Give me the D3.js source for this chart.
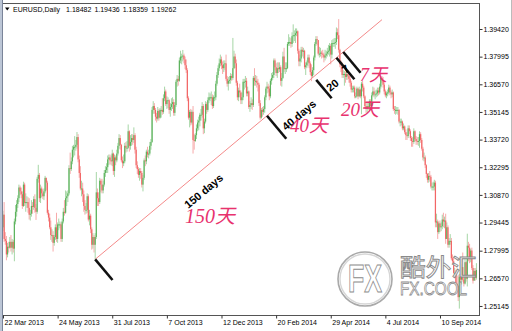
<!DOCTYPE html>
<html>
<head>
<meta charset="utf-8">
<script src="https://cdnjs.cloudflare.com/ajax/libs/d3/7.8.5/d3.min.js"></script>
<style>
  html, body { margin: 0; padding: 0; background: #fff; }
  svg { display: block; }
</style>
</head>
<body>
<div id="chart"></div>
<script>
// EURUSD daily candles
const symbolName = "EURUSD,Daily";
const quoteLine = ["1.18482", "1.19436", "1.18359", "1.19262"];

const xTickBars = [0, 48, 96, 144, 192, 240, 288, 336, 384];
const xTickLabels = ["22 Mar 2013", "24 May 2013", "31 Jul 2013", "7 Oct 2013", "12 Dec 2013",
  "20 Feb 2014", "29 Apr 2014", "4 Jul 2014", "10 Sep 2014"];
const yTickLabels = ["1.39420", "1.37995", "1.36570", "1.35145", "1.33720", "1.32295",
  "1.30870", "1.29445", "1.27995", "1.26570", "1.25145"];

const firstOpen = 1.2920;
const closes = [
  1.2985,1.2860,1.2850,1.2780,1.2820,1.2815,1.2845,1.2815,1.2845,1.2810,
  1.2950,1.3000,1.3040,1.3070,1.3125,1.3105,1.3090,1.3030,1.3140,1.3045,
  1.3050,1.3050,1.3020,1.2985,1.2990,1.3030,1.3025,1.3065,1.3020,1.3000,
  1.3170,1.3190,1.3070,1.3120,1.3095,1.3080,1.3105,1.3175,1.3150,1.2995,
  1.2970,1.2920,1.2880,1.2880,1.2840,1.2870,1.2920,1.2860,1.2935,1.2935,
  1.2935,1.2860,1.2950,1.3000,1.2995,1.3070,1.3080,1.3095,1.3225,1.3220,
  1.3260,1.3320,1.3335,1.3335,1.3345,1.3385,1.3270,1.3200,1.3120,1.3120,
  1.3090,1.3030,1.3010,1.3010,1.3080,1.2960,1.2980,1.2910,1.2830,1.2870,
  1.2830,1.2870,1.3100,1.3070,1.3050,1.3160,1.3140,1.3110,1.3140,1.3200,
  1.3215,1.3230,1.3270,1.3280,1.3265,1.3260,1.3300,1.3210,1.3280,1.3265,
  1.3300,1.3340,1.3380,1.3345,1.3265,1.3250,1.3260,1.3340,1.3330,1.3330,
  1.3415,1.3340,1.3360,1.3380,1.3370,1.3395,1.3320,1.3240,1.3220,1.3190,
  1.3210,1.3200,1.3140,1.3175,1.3265,1.3260,1.3310,1.3295,1.3300,1.3340,
  1.3360,1.3525,1.3545,1.3525,1.3490,1.3480,1.3520,1.3485,1.3525,1.3525,
  1.3515,1.3585,1.3620,1.3555,1.3575,1.3575,1.3525,1.3540,1.3555,1.3565,
  1.3510,1.3550,1.3670,1.3685,1.3675,1.3780,1.3800,1.3800,1.3805,1.3785,
  1.3755,1.3730,1.3585,1.3485,1.3515,1.3460,1.3515,1.3370,1.3365,1.3395,
  1.3430,1.3460,1.3470,1.3500,1.3500,1.3545,1.3430,1.3465,1.3555,1.3525,
  1.3575,1.3590,1.3590,1.3590,1.3545,1.3590,1.3590,1.3660,1.3705,1.3740,
  1.3765,1.3785,1.3755,1.3740,1.3760,1.3765,1.3685,1.3660,1.3675,1.3680,
  1.3700,1.3690,1.3740,1.3800,1.3765,1.3665,1.3590,1.3625,1.3615,1.3575,
  1.3590,1.3670,1.3670,1.3675,1.3610,1.3620,1.3540,1.3550,1.3560,1.3550,
  1.3690,1.3675,1.3675,1.3665,1.3655,1.3560,1.3485,1.3525,1.3515,1.3530,
  1.3590,1.3635,1.3645,1.3635,1.3595,1.3675,1.3690,1.3705,1.3780,1.3745,
  1.3715,1.3740,1.3735,1.3745,1.3675,1.3690,1.3800,1.3735,1.3740,1.3740,
  1.3865,1.3875,1.3875,1.3865,1.3905,1.3910,1.3910,1.3920,1.3930,1.3830,
  1.3775,1.3790,1.3835,1.3825,1.3830,1.3745,1.3755,1.3770,1.3795,1.3765,
  1.3720,1.3700,1.3730,1.3795,1.3865,1.3890,1.3885,1.3815,1.3815,1.3820,
  1.3815,1.3810,1.3795,1.3805,1.3815,1.3825,1.3830,1.3855,1.3810,1.3870,
  1.3870,1.3870,1.3875,1.3925,1.3910,1.3835,1.3760,1.3755,1.3705,1.3710,
  1.3710,1.3695,1.3710,1.3700,1.3685,1.3665,1.3630,1.3635,1.3640,1.3595,
  1.3595,1.3635,1.3595,1.3630,1.3595,1.3660,1.3640,1.3595,1.3545,1.3530,
  1.3545,1.3540,1.3570,1.3545,1.3600,1.3620,1.3605,1.3605,1.3610,1.3625,
  1.3615,1.3645,1.3690,1.3680,1.3655,1.3620,1.3600,1.3610,1.3615,1.3640,
  1.3615,1.3605,1.3615,1.3530,1.3525,1.3525,1.3525,1.3525,1.3465,1.3465,
  1.3465,1.3430,1.3440,1.3410,1.3395,1.3390,1.3430,1.3415,1.3380,1.3365,
  1.3360,1.3415,1.3375,1.3365,1.3360,1.3365,1.3400,1.3370,1.3325,1.3280,
  1.3280,1.3240,1.3195,1.3165,1.3185,1.3180,1.3130,1.3130,1.3130,1.3150,
  1.2945,1.2950,1.2895,1.2940,1.2920,1.2925,1.2960,1.2950,1.2955,1.2860,
  1.2920,1.2830,1.2850,1.2850,1.2760,1.2745,1.2685,1.2685,1.2630,1.2620,
  1.2560,1.2665,1.2650,1.2715,1.2650,1.2630,1.2740,1.2655,1.2825,1.2815,
  1.2760,1.2800,1.2710,1.2645,1.2695,1.2660,1.2700
];
const highs = [
  1.3005,1.3050,1.2895,1.2875,1.2840,1.2845,1.2870,1.2880,1.2860,1.2855,
  1.2965,1.3035,1.3060,1.3085,1.3140,1.3135,1.3125,1.3105,1.3155,1.3150,
  1.3095,1.3080,1.3075,1.3070,1.3010,1.3060,1.3050,1.3080,1.3090,1.3040,
  1.3180,1.3242,1.3200,1.3140,1.3130,1.3115,1.3120,1.3185,1.3175,1.3160,
  1.3010,1.2990,1.2955,1.2910,1.2900,1.2880,1.2935,1.2995,1.2945,1.2965,
  1.2950,1.2945,1.2965,1.3020,1.3060,1.3110,1.3105,1.3110,1.3240,1.3305,
  1.3280,1.3340,1.3345,1.3390,1.3370,1.3411,1.3400,1.3290,1.3235,1.3160,
  1.3150,1.3110,1.3060,1.3045,1.3095,1.3090,1.3010,1.2990,1.2920,1.2890,
  1.2880,1.2890,1.3205,1.3120,1.3100,1.3175,1.3170,1.3170,1.3160,1.3215,
  1.3235,1.3250,1.3290,1.3295,1.3295,1.3290,1.3320,1.3305,1.3295,1.3290,
  1.3320,1.3355,1.3400,1.3395,1.3350,1.3285,1.3295,1.3355,1.3360,1.3365,
  1.3450,1.3420,1.3395,1.3400,1.3400,1.3435,1.3405,1.3335,1.3260,1.3230,
  1.3225,1.3225,1.3210,1.3190,1.3275,1.3290,1.3320,1.3335,1.3320,1.3360,
  1.3375,1.3540,1.3570,1.3560,1.3535,1.3510,1.3540,1.3530,1.3535,1.3545,
  1.3585,1.3605,1.3645,1.3630,1.3595,1.3590,1.3580,1.3560,1.3585,1.3590,
  1.3580,1.3565,1.3680,1.3705,1.3700,1.3795,1.3830,1.3815,1.3834,1.3815,
  1.3800,1.3785,1.3740,1.3595,1.3525,1.3530,1.3525,1.3545,1.3400,1.3405,
  1.3450,1.3475,1.3490,1.3510,1.3530,1.3565,1.3555,1.3480,1.3570,1.3565,
  1.3590,1.3615,1.3610,1.3620,1.3605,1.3600,1.3620,1.3675,1.3720,1.3755,
  1.3790,1.3810,1.3800,1.3775,1.3780,1.3780,1.3810,1.3700,1.3695,1.3700,
  1.3715,1.3710,1.3896,1.3830,1.3815,1.3785,1.3675,1.3640,1.3660,1.3625,
  1.3615,1.3685,1.3685,1.3700,1.3690,1.3645,1.3625,1.3570,1.3590,1.3580,
  1.3700,1.3740,1.3705,1.3700,1.3685,1.3665,1.3575,1.3535,1.3540,1.3545,
  1.3600,1.3645,1.3670,1.3660,1.3650,1.3685,1.3715,1.3720,1.3790,1.3790,
  1.3765,1.3770,1.3770,1.3770,1.3755,1.3715,1.3825,1.3845,1.3770,1.3770,
  1.3875,1.3915,1.3900,1.3895,1.3925,1.3966,1.3935,1.3945,1.3945,1.3935,
  1.3840,1.3810,1.3850,1.3850,1.3845,1.3835,1.3770,1.3780,1.3810,1.3810,
  1.3775,1.3760,1.3745,1.3805,1.3875,1.3905,1.3905,1.3885,1.3850,1.3845,
  1.3830,1.3835,1.3820,1.3835,1.3830,1.3845,1.3860,1.3870,1.3865,1.3885,
  1.3890,1.3895,1.3895,1.3950,1.3945,1.3993,1.3840,1.3780,1.3770,1.3730,
  1.3725,1.3720,1.3730,1.3730,1.3715,1.3700,1.3675,1.3650,1.3650,1.3650,
  1.3615,1.3645,1.3640,1.3645,1.3635,1.3670,1.3675,1.3650,1.3600,1.3560,
  1.3560,1.3565,1.3580,1.3580,1.3615,1.3645,1.3640,1.3625,1.3630,1.3640,
  1.3640,1.3660,1.3700,1.3700,1.3695,1.3665,1.3630,1.3620,1.3630,1.3655,
  1.3650,1.3625,1.3630,1.3620,1.3545,1.3545,1.3540,1.3540,1.3530,1.3480,
  1.3480,1.3470,1.3455,1.3445,1.3425,1.3410,1.3445,1.3445,1.3425,1.3390,
  1.3385,1.3430,1.3420,1.3390,1.3385,1.3385,1.3415,1.3410,1.3380,1.3335,
  1.3305,1.3290,1.3245,1.3200,1.3200,1.3210,1.3190,1.3150,1.3155,1.3165,
  1.3160,1.2990,1.2960,1.2950,1.2955,1.2945,1.2985,1.2995,1.2975,1.2990,
  1.2945,1.2930,1.2865,1.2885,1.2865,1.2780,1.2765,1.2710,1.2700,1.2670,
  1.2675,1.2680,1.2680,1.2730,1.2790,1.2670,1.2760,1.2745,1.2887,1.2845,
  1.2835,1.2810,1.2815,1.2725,1.2710,1.2710,1.2735
];
const lows = [
  1.2900,1.2845,1.2830,1.2750,1.2765,1.2790,1.2810,1.2795,1.2780,1.2790,
  1.2745,1.2935,1.2975,1.3020,1.3050,1.3085,1.3070,1.3015,1.3025,1.3030,
  1.3000,1.3020,1.2995,1.2960,1.2955,1.2975,1.2990,1.3010,1.2995,1.2958,
  1.2990,1.3150,1.3050,1.3045,1.3075,1.3065,1.3060,1.3095,1.3110,1.2985,
  1.2950,1.2910,1.2855,1.2845,1.2795,1.2825,1.2855,1.2845,1.2840,1.2905,
  1.2915,1.2845,1.2845,1.2940,1.2980,1.2990,1.3030,1.3050,1.3085,1.3195,
  1.3210,1.3245,1.3280,1.3290,1.3315,1.3325,1.3255,1.3175,1.3110,1.3080,
  1.3050,1.3000,1.2985,1.2990,1.2995,1.2950,1.2930,1.2890,1.2805,1.2810,
  1.2790,1.2755,1.2860,1.3030,1.3030,1.3040,1.3100,1.3095,1.3095,1.3130,
  1.3180,1.3200,1.3200,1.3240,1.3245,1.3240,1.3235,1.3190,1.3180,1.3240,
  1.3255,1.3290,1.3325,1.3320,1.3255,1.3225,1.3235,1.3250,1.3305,1.3310,
  1.3325,1.3310,1.3320,1.3340,1.3345,1.3355,1.3300,1.3225,1.3195,1.3175,
  1.3160,1.3170,1.3125,1.3105,1.3165,1.3235,1.3245,1.3280,1.3275,1.3290,
  1.3320,1.3355,1.3505,1.3505,1.3470,1.3460,1.3470,1.3470,1.3480,1.3485,
  1.3500,1.3505,1.3570,1.3545,1.3530,1.3535,1.3505,1.3490,1.3520,1.3530,
  1.3495,1.3495,1.3540,1.3645,1.3650,1.3670,1.3765,1.3760,1.3775,1.3765,
  1.3735,1.3715,1.3570,1.3475,1.3435,1.3445,1.3450,1.3300,1.3320,1.3360,
  1.3375,1.3415,1.3420,1.3440,1.3470,1.3485,1.3400,1.3405,1.3455,1.3505,
  1.3515,1.3560,1.3570,1.3550,1.3530,1.3535,1.3570,1.3575,1.3650,1.3690,
  1.3725,1.3750,1.3735,1.3710,1.3720,1.3730,1.3675,1.3645,1.3625,1.3660,
  1.3660,1.3675,1.3680,1.3735,1.3740,1.3650,1.3575,1.3570,1.3590,1.3555,
  1.3555,1.3575,1.3630,1.3640,1.3595,1.3595,1.3530,1.3515,1.3530,1.3525,
  1.3540,1.3650,1.3650,1.3640,1.3620,1.3545,1.3475,1.3480,1.3490,1.3500,
  1.3510,1.3575,1.3610,1.3615,1.3575,1.3585,1.3655,1.3680,1.3690,1.3730,
  1.3700,1.3690,1.3715,1.3720,1.3650,1.3645,1.3685,1.3720,1.3710,1.3720,
  1.3735,1.3855,1.3855,1.3845,1.3850,1.3870,1.3880,1.3870,1.3905,1.3815,
  1.3750,1.3750,1.3770,1.3800,1.3790,1.3735,1.3705,1.3740,1.3750,1.3740,
  1.3705,1.3673,1.3690,1.3705,1.3780,1.3855,1.3860,1.3805,1.3795,1.3800,
  1.3790,1.3795,1.3770,1.3780,1.3790,1.3800,1.3810,1.3800,1.3760,1.3790,
  1.3850,1.3850,1.3840,1.3860,1.3890,1.3820,1.3745,1.3720,1.3690,1.3690,
  1.3650,1.3665,1.3680,1.3680,1.3665,1.3645,1.3615,1.3615,1.3615,1.3585,
  1.3585,1.3590,1.3580,1.3590,1.3585,1.3503,1.3620,1.3585,1.3535,1.3510,
  1.3510,1.3525,1.3520,1.3530,1.3530,1.3595,1.3590,1.3580,1.3590,1.3595,
  1.3600,1.3605,1.3635,1.3665,1.3640,1.3605,1.3590,1.3585,1.3595,1.3605,
  1.3600,1.3585,1.3590,1.3520,1.3505,1.3500,1.3505,1.3500,1.3455,1.3440,
  1.3445,1.3420,1.3420,1.3400,1.3370,1.3370,1.3380,1.3400,1.3365,1.3335,
  1.3335,1.3350,1.3360,1.3345,1.3345,1.3340,1.3330,1.3355,1.3315,1.3265,
  1.3260,1.3225,1.3175,1.3150,1.3150,1.3155,1.3120,1.3110,1.3110,1.3110,
  1.2920,1.2920,1.2860,1.2885,1.2895,1.2900,1.2910,1.2920,1.2915,1.2835,
  1.2860,1.2815,1.2815,1.2830,1.2750,1.2730,1.2680,1.2665,1.2620,1.2590,
  1.2540,1.2501,1.2620,1.2625,1.2640,1.2615,1.2625,1.2640,1.2615,1.2745,
  1.2735,1.2740,1.2700,1.2630,1.2645,1.2645,1.2650
];

// trend line drawn on the chart and the day counts along it
const trendLine = [[81, 1.2755], [333, 1.3990]];
const countBars = [81, 232, 273, 293, 299];
const countText = ["150 days", "40 days", "20", "7"];
const countAt = [[176.2, 1.3107], [260.1, 1.3499], [289.5, 1.3653], [301, 1.3736]];
const zhText = ["150天", "40天", "20天", "7天"];
const zhAt = [[159.9, 1.2942], [252.2, 1.3411], [297, 1.3494], [313.7, 1.3674]];

const W = 512, H = 331;
const plot = { left: 3, right: 479, top: 3, bottom: 315 };
const uiFont = "'Liberation Sans', Arial, sans-serif";

const svg = d3.select("#chart").append("svg")
  .attr("width", W).attr("height", H)
  .attr("viewBox", `0 0 ${W} ${H}`);

svg.append("rect").attr("width", W).attr("height", H).attr("fill", "#fff");

const x = d3.scaleLinear().domain([0, closes.length - 1]).range([3, 3 + 1.138 * (closes.length - 1)]);
const y = d3.scaleLinear().domain([1.2468, 1.4076]).range([plot.bottom, plot.top]);

// candles
const bars = closes.map((c, i) => ({ i, o: i ? closes[i - 1] : firstOpen, h: highs[i], l: lows[i], c }));
const up = d => d.c >= d.o;
const candles = svg.append("g");
candles.selectAll("line").data(bars).join("line")
  .attr("x1", d => x(d.i)).attr("x2", d => x(d.i))
  .attr("y1", d => y(d.h)).attr("y2", d => y(d.l))
  .attr("stroke", d => up(d) ? "#a6d6a6" : "#f7aaaa")
  .attr("stroke-width", 1);
candles.selectAll("rect").data(bars).join("rect")
  .attr("x", d => x(d.i) - 0.6).attr("width", 1.2)
  .attr("y", d => y(Math.max(d.o, d.c)))
  .attr("height", d => Math.max(1, Math.abs(y(d.o) - y(d.c))))
  .attr("fill", d => up(d) ? "#5db35d" : "#f26666");

// frame
svg.append("rect").attr("x", 0).attr("y", 0).attr("width", 2).attr("height", H).attr("fill", "#bcc6d6");
svg.append("line").attr("x1", 2.5).attr("x2", 2.5).attr("y1", 0).attr("y2", H).attr("stroke", "#7a8499");
svg.append("line").attr("x1", plot.left).attr("x2", plot.right + 0.5)
  .attr("y1", plot.top + 0.5).attr("y2", plot.top + 0.5).attr("stroke", "#555");
svg.append("line").attr("x1", plot.left).attr("x2", plot.right + 0.5)
  .attr("y1", plot.bottom + 0.5).attr("y2", plot.bottom + 0.5).attr("stroke", "#555");
svg.append("line").attr("x1", plot.right + 0.5).attr("x2", plot.right + 0.5)
  .attr("y1", plot.top).attr("y2", plot.bottom + 1).attr("stroke", "#555");
svg.append("line").attr("x1", W - 0.5).attr("x2", W - 0.5).attr("y1", 0).attr("y2", H).attr("stroke", "#bbb");

// axes
const yAxis = d3.axisRight(y)
  .tickValues(yTickLabels.map(Number))
  .tickFormat((d, i) => yTickLabels[i])
  .tickSize(3).tickSizeOuter(0).tickPadding(1);
const gy = svg.append("g").attr("transform", `translate(${plot.right + 0.5},0)`).call(yAxis);
gy.select(".domain").remove();
gy.selectAll("line").attr("stroke", "#333");
gy.selectAll("text").attr("font-family", uiFont).attr("font-size", 7).attr("fill", "#000");

const xAxis = d3.axisBottom(x)
  .tickValues(xTickBars)
  .tickFormat((d, i) => xTickLabels[i])
  .tickSize(3).tickSizeOuter(0).tickPadding(2);
const gx = svg.append("g").attr("transform", `translate(0,${plot.bottom + 0.5})`).call(xAxis);
gx.select(".domain").remove();
gx.selectAll("line").attr("stroke", "#333");
gx.selectAll("text").attr("font-family", uiFont).attr("font-size", 7).attr("fill", "#000")
  .attr("text-anchor", "start").attr("x", 1);

// header
svg.append("path").attr("d", "M5,7.5 L9.5,7.5 L7.25,10.5 Z").attr("fill", "#000");
const head = svg.append("text").attr("x", 13).attr("y", 11.5)
  .attr("font-family", uiFont).attr("font-size", 7).attr("fill", "#000");
head.append("tspan").text(symbolName);
quoteLine.forEach((q, i) => head.append("tspan").attr("dx", i ? 3 : 6).text(q));

// trend line
const tl = trendLine;
svg.append("line")
  .attr("x1", x(tl[0][0])).attr("y1", y(tl[0][1]))
  .attr("x2", x(tl[1][0])).attr("y2", y(tl[1][1]))
  .attr("stroke", "#f48a8a").attr("stroke-width", 1);

const tlSlope = (tl[1][1] - tl[0][1]) / (tl[1][0] - tl[0][0]);
const tlPrice = i => tl[0][1] + (i - tl[0][0]) * tlSlope;
const ang = Math.atan2(y(tl[1][1]) - y(tl[0][1]), x(tl[1][0]) - x(tl[0][0]));
const nx = -Math.sin(ang), ny = Math.cos(ang);
const angDeg = ang * 180 / Math.PI;

// perpendicular count markers
const markSpan = [[0, 27], [0, 30], [4, 28], [0, 28], [0, 27]];
svg.append("g").selectAll("line").data(countBars).join("line")
  .attr("x1", (d, k) => x(d) + nx * markSpan[k][0])
  .attr("y1", (d, k) => y(tlPrice(d)) + ny * markSpan[k][0])
  .attr("x2", (d, k) => x(d) + nx * markSpan[k][1])
  .attr("y2", (d, k) => y(tlPrice(d)) + ny * markSpan[k][1])
  .attr("stroke", "#111").attr("stroke-width", 2.6);

svg.append("g").selectAll("text").data(countText).join("text")
  .attr("transform", (d, k) => `translate(${x(countAt[k][0])},${y(countAt[k][1])}) rotate(${angDeg})`)
  .attr("text-anchor", "middle").attr("dominant-baseline", "central")
  .attr("font-family", uiFont).attr("font-weight", "bold").attr("font-size", 11)
  .attr("fill", "#000")
  .text(d => d);

const zhSize = [20, 19, 19, 18];
svg.append("g").selectAll("text").data(zhText).join("text")
  .attr("x", (d, k) => x(zhAt[k][0])).attr("y", (d, k) => y(zhAt[k][1]))
  .attr("font-family", "'Liberation Serif', 'Times New Roman', 'Noto Sans CJK SC', serif")
  .attr("font-style", "italic")
  .attr("font-size", (d, k) => zhSize[k])
  .attr("fill", "#e8326e")
  .text(d => d);

// watermark
const wm = svg.append("g");
wm.append("circle").attr("cx", 365).attr("cy", 279).attr("r", 27)
  .attr("fill", "#fff").attr("fill-opacity", 0.55)
  .attr("stroke", "#a9a9a9").attr("stroke-width", 1.6);
wm.append("circle").attr("cx", 365).attr("cy", 279).attr("r", 25)
  .attr("fill", "none").attr("stroke", "#d6d6d6").attr("stroke-width", 1.4);
wm.append("text").attr("x", 365).attr("y", 292).attr("text-anchor", "middle")
  .attr("font-family", uiFont).attr("font-weight", "bold").attr("font-size", 38)
  .attr("textLength", 34).attr("lengthAdjust", "spacingAndGlyphs")
  .attr("fill", "#fff").attr("stroke", "#8c8c8c").attr("stroke-width", 1)
  .text("FX");
wm.append("text").attr("x", 400).attr("y", 276)
  .attr("font-family", "'Noto Sans CJK SC', sans-serif").attr("font-size", 24)
  .attr("textLength", 77).attr("lengthAdjust", "spacingAndGlyphs")
  .attr("fill", "#fff").attr("fill-opacity", 0.85).attr("stroke", "#8a8a8a").attr("stroke-width", 0.9)
  .text("酷外汇");
wm.append("text").attr("x", 400).attr("y", 295)
  .attr("font-family", uiFont).attr("font-size", 19)
  .attr("textLength", 67).attr("lengthAdjust", "spacingAndGlyphs")
  .attr("fill", "#fff").attr("fill-opacity", 0.85).attr("stroke", "#8a8a8a").attr("stroke-width", 0.8)
  .text("FX.COOL");
</script>
</body>
</html>
